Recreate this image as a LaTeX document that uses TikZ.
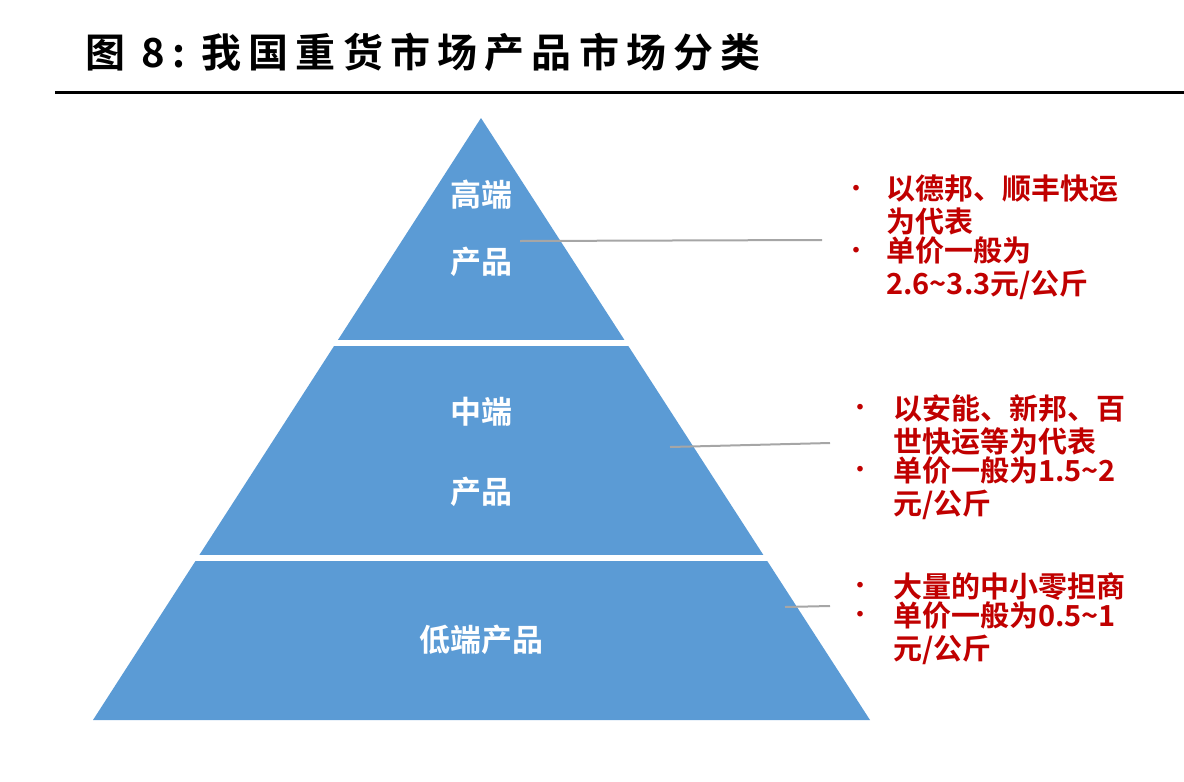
\documentclass[tikz,border=0pt]{standalone}
\usepackage{fontspec}
\newfontfamily\cjk{Noto Sans CJK SC}
\newfontfamily\cjkb{Noto Sans CJK SC Bold}
\newfontfamily\cjkt[LetterSpace=18]{Noto Sans CJK SC Bold}
\usetikzlibrary{positioning}
\definecolor{pyrblue}{RGB}{91,155,213}
\definecolor{txtred}{RGB}{192,0,0}
\tikzset{
  level/.style={font=\cjkb\fontsize{31}{33}\selectfont, text=white},
  note/.style={font=\cjkb\fontsize{29}{33}\selectfont, text=txtred, anchor=north west, align=left, inner sep=0pt},
  dot/.style={font=\cjkb\fontsize{22}{22}\selectfont, text=txtred, inner sep=0pt},
  leader/.style={draw=gray!70, line width=2pt}
}
\begin{document}
\begin{tikzpicture}[x=1pt,y=-1pt]
\useasboundingbox (0,0) rectangle (1184,782);
% title
\node[anchor=west, inner sep=0pt, font=\cjkt\fontsize{40}{40}\selectfont] (title) at (85,52) {图\ 8:\ 我国重货市场产品市场分类};
\draw[line width=3pt] (55,92) -- (1184,92);
% pyramid
\coordinate (apex) at (481,118);
\coordinate (bl) at (93,720);
\coordinate (br) at (870,720);
\fill[pyrblue] (apex) -- (br) -- (bl) -- cycle;
\draw[white, line width=6pt] (300,343) -- (660,343);
\draw[white, line width=6pt] (150,558) -- (800,558);
% levels
\node[level] (hi1) at (481,195) {高端};
\node[level] (hi2) at (481,262) {产品};
\node[level] (mid1) at (481,412) {中端};
\node[level] (mid2) at (481,492) {产品};
\node[level] (lo) at (481,640) {低端产品};
% notes
\node[note] (n1) at (886,175) {以德邦、顺丰快运\\为代表};
\node[note, below=1pt of n1.south west, anchor=north west] (n2) {单价一般为\\2.6\textasciitilde 3.3元/公斤};
\node[note] (n3) at (893,394) {以安能、新邦、百\\世快运等为代表};
\node[note, below=1pt of n3.south west, anchor=north west] (n4) {单价一般为1.5\textasciitilde 2\\元/公斤};
\node[note] (n5) at (893,572) {大量的中小零担商};
\node[note, below=1pt of n5.south west, anchor=north west] (n6) {单价一般为0.5\textasciitilde 1\\元/公斤};
\foreach \n/\dx in {n1/30,n2/30,n3/33,n4/33,n5/33,n6/33}
  \node[dot, xshift=-\dx pt, yshift=-16pt] at (\n.north west) {·};
% leaders
\coordinate (l1) at (822,240);
\coordinate (l2) at (830,443);
\coordinate (l3) at (830,606);
\draw[leader] (520,241) -- (l1);
\draw[leader] (670,447) -- (l2);
\draw[leader] (785,607) -- (l3);
\end{tikzpicture}
\end{document}
